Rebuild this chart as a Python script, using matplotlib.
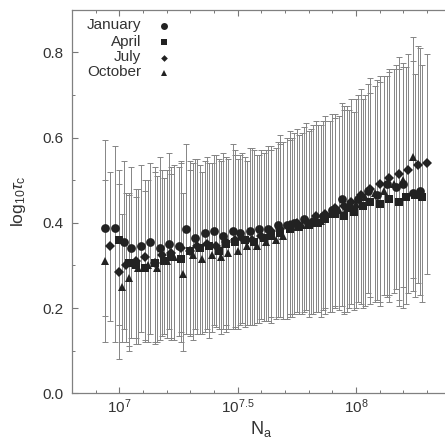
import matplotlib
matplotlib.use("Agg")
import matplotlib.pyplot as plt
from matplotlib.ticker import MultipleLocator, FixedLocator, FixedFormatter, FormatStrFormatter

plt.rcParams["font.family"] = ["Liberation Sans", "DejaVu Sans"]
plt.rcParams["mathtext.fontset"] = "custom"
plt.rcParams["mathtext.rm"] = "Liberation Sans"
plt.rcParams["mathtext.it"] = "Liberation Sans:italic"
plt.rcParams["mathtext.sf"] = "Liberation Sans"

# log10(N_a), mean log10(tau_c), upper and lower error-bar ends per month
jan_x = [6.94, 6.98, 7.02, 7.05, 7.09, 7.13, 7.17, 7.21, 7.25, 7.28,
         7.32, 7.36, 7.40, 7.44, 7.48, 7.51, 7.55, 7.59, 7.63, 7.67,
         7.71, 7.74, 7.78, 7.82, 7.86, 7.90, 7.94, 7.97, 8.01, 8.05,
         8.09, 8.13, 8.17, 8.20, 8.24, 8.27]
jan_y = [.388, .388, .355, .340, .345, .355, .340, .350, .345, .385,
         .365, .375, .380, .370, .380, .375, .380, .385, .385, .395,
         .395, .400, .410, .405, .415, .430, .455, .440, .455, .475,
         .465, .490, .485, .490, .470, .475]
jan_hi = [.595, .580, .545, .530, .535, .540, .555, .565, .530, .585,
          .550, .545, .560, .565, .585, .560, .575, .560, .580, .590,
          .600, .610, .625, .630, .640, .655, .680, .665, .700, .725,
          .735, .745, .770, .775, .780, .810]
jan_lo = [.182, .120, .150, .130, .145, .140, .125, .150, .135, .140,
          .150, .145, .160, .150, .150, .160, .160, .165, .170, .180,
          .175, .185, .190, .185, .195, .190, .205, .200, .215, .235,
          .220, .225, .245, .250, .240, .230]

apr_x = [7.00, 7.04, 7.07, 7.11, 7.15, 7.19, 7.22, 7.26, 7.30, 7.34,
         7.38, 7.42, 7.45, 7.49, 7.53, 7.57, 7.61, 7.64, 7.68, 7.72,
         7.76, 7.80, 7.84, 7.87, 7.91, 7.95, 7.99, 8.03, 8.06, 8.10,
         8.14, 8.18, 8.21, 8.25, 8.28]
apr_y = [.360, .305, .300, .295, .305, .310, .320, .315, .335, .340,
         .345, .335, .350, .355, .360, .355, .365, .370, .375, .385,
         .390, .395, .400, .410, .420, .415, .425, .440, .450, .445,
         .455, .450, .460, .465, .460]
apr_hi = [.525, .470, .460, .475, .520, .505, .515, .540, .545, .535,
          .540, .550, .555, .560, .555, .570, .565, .570, .585, .595,
          .605, .615, .630, .640, .645, .665, .660, .690, .705, .730,
          .755, .760, .765, .750, .770]
apr_lo = [.160, .110, .115, .120, .115, .140, .125, .120, .135, .140,
          .130, .150, .145, .150, .155, .160, .170, .165, .180, .180,
          .185, .180, .190, .185, .200, .190, .195, .200, .210, .205,
          .215, .220, .210, .225, .215]

jul_x = [6.96, 7.00, 7.03, 7.07, 7.11, 7.15, 7.18, 7.22, 7.26, 7.30,
         7.33, 7.37, 7.41, 7.45, 7.49, 7.52, 7.56, 7.60, 7.64, 7.68,
         7.72, 7.75, 7.79, 7.83, 7.87, 7.91, 7.95, 7.98, 8.02, 8.06,
         8.10, 8.14, 8.18, 8.22, 8.26, 8.30]
jul_y = [.345, .285, .300, .310, .320, .305, .325, .330, .340, .335,
         .345, .350, .345, .355, .360, .365, .360, .370, .380, .385,
         .395, .400, .405, .415, .420, .435, .440, .450, .465, .480,
         .490, .505, .515, .525, .535, .540]
jul_hi = [.520, .490, .470, .480, .500, .530, .525, .530, .545, .525,
          .550, .555, .560, .555, .570, .565, .575, .570, .580, .605,
          .615, .620, .635, .640, .650, .655, .675, .690, .715, .740,
          .745, .760, .790, .795, .815, .795]
jul_lo = [.170, .080, .120, .130, .125, .120, .135, .130, .145, .140,
          .140, .150, .155, .160, .155, .165, .160, .175, .180, .180,
          .185, .190, .195, .190, .200, .205, .185, .210, .210, .225,
          .215, .230, .205, .235, .260, .280]

oct_x = [6.94, 7.01, 7.04, 7.08, 7.12, 7.16, 7.20, 7.23, 7.27, 7.31,
         7.35, 7.39, 7.43, 7.46, 7.50, 7.54, 7.58, 7.62, 7.66, 7.69,
         7.73, 7.77, 7.81, 7.85, 7.89, 7.93, 7.96, 8.00, 8.04, 8.08,
         8.12, 8.16, 8.20, 8.24]
oct_y = [.310, .250, .270, .295, .300, .295, .310, .320, .280, .325,
         .315, .325, .320, .330, .335, .345, .345, .355, .360, .370,
         .390, .395, .400, .405, .420, .430, .435, .445, .460, .470,
         .475, .490, .500, .555]
oct_hi = [.500, .420, .465, .480, .500, .510, .525, .535, .470, .540,
          .520, .540, .545, .550, .550, .545, .560, .570, .575, .590,
          .600, .610, .620, .630, .640, .650, .675, .690, .700, .720,
          .745, .760, .765, .835]
oct_lo = [.120, .120, .100, .115, .120, .120, .130, .125, .100, .125,
          .140, .145, .140, .150, .150, .160, .165, .170, .175, .175,
          .180, .185, .185, .180, .190, .195, .190, .200, .205, .215,
          .230, .235, .200, .270]

months = ["January", "April", "July", "October"]
markers = ["o", "s", "D", "^"]
marker_sizes = [6.3, 5.5, 4.6, 6.2]
series = [(jan_x, jan_y, jan_hi, jan_lo), (apr_x, apr_y, apr_hi, apr_lo),
          (jul_x, jul_y, jul_hi, jul_lo), (oct_x, oct_y, oct_hi, oct_lo)]

xtick_pos = [7.0, 7.5, 8.0]
xtick_labels = [r"$10^{7}$", r"$10^{7.5}$", r"$10^{8}$"]

ink = "#222222"
bar_color = "#858585"

fig = plt.figure(figsize=(4.45, 4.38), dpi=100)
ax = fig.add_axes([72 / 445, 0.102, 378.7 / 445, 0.8758])

# error bars first, markers on top
for (x, y, hi, lo) in series:
    yerr = [[m - l for m, l in zip(y, lo)], [h - m for m, h in zip(y, hi)]]
    ax.errorbar(x, y, yerr=yerr, fmt="none", ecolor=bar_color, elinewidth=0.7,
                capsize=2.5, capthick=0.7, zorder=2)
for (x, y, hi, lo), mk, ms, name in zip(series, markers, marker_sizes, months):
    ax.plot(x, y, linestyle="none", marker=mk, markersize=ms, color=ink,
            markeredgewidth=0, zorder=3, label=name)

ax.set_xlim(6.8, 8.4)
ax.set_ylim(0.0, 0.9)
ax.xaxis.set_major_locator(FixedLocator(xtick_pos))
ax.xaxis.set_major_formatter(FixedFormatter(xtick_labels))
ax.xaxis.set_minor_locator(MultipleLocator(0.1))
ax.yaxis.set_major_locator(MultipleLocator(0.2))
ax.yaxis.set_minor_locator(MultipleLocator(0.1))
ax.yaxis.set_major_formatter(FormatStrFormatter("%.1f"))

ax.tick_params(which="both", direction="in", top=True, right=True, colors="#777777",
               labelcolor="#333333", labelsize=11)
ax.tick_params(which="major", length=4.5, width=0.8)
ax.tick_params(which="minor", length=2.5, width=0.7)
ax.tick_params(axis="y", pad=6)
ax.tick_params(axis="x", pad=3)
for s in ax.spines.values():
    s.set_color("#808080")
    s.set_linewidth(0.9)

ax.set_ylabel(r"log$_{10}\tau_{\rm c}$", fontsize=12.5, color="#333333")
ax.yaxis.set_label_coords(-0.115, 0.5)
ax.set_xlabel(r"N$_{\rm a}$", fontsize=13, color="#333333", labelpad=2)

# key in the upper-left corner: names right-aligned, symbol to the right
key_rows = [0.960, 0.917, 0.877, 0.838]
key_sizes = [5.0, 4.6, 3.4, 4.6]
for name, mk, ms, yy in zip(months, markers, key_sizes, key_rows):
    ax.text(0.182, yy, name, transform=ax.transAxes, ha="right", va="center",
            fontsize=11, color="#333333")
    ax.plot([0.243], [yy - 0.002], transform=ax.transAxes, marker=mk, markersize=ms,
            color=ink, markeredgewidth=0, linestyle="none", clip_on=False)

fig.savefig("out.png", dpi=100, facecolor="white")
